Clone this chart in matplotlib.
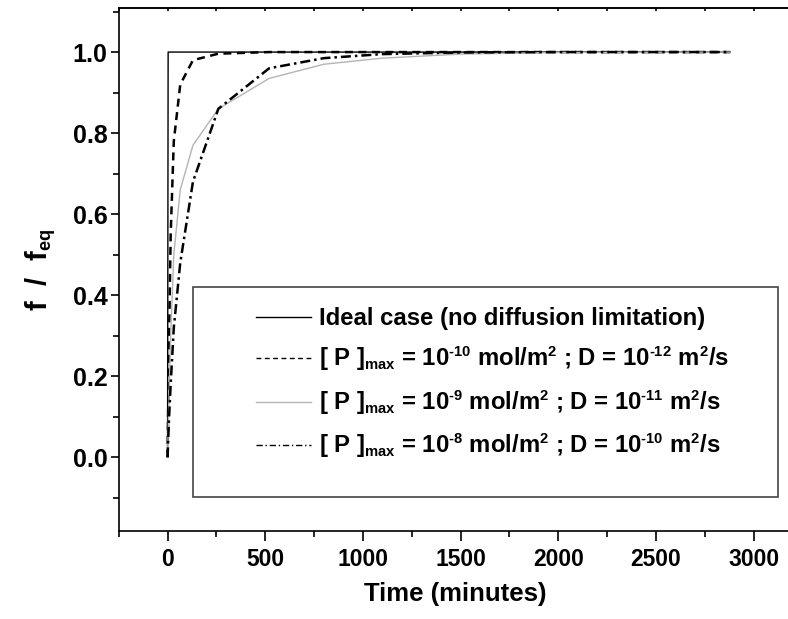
import matplotlib
matplotlib.use("Agg")
import matplotlib.pyplot as plt
from matplotlib.lines import Line2D
from matplotlib.patches import Rectangle
from matplotlib.ticker import MultipleLocator
try:
    import matplotlib._mathtext as _mt
    _mt.SHRINK_FACTOR = 0.62
except Exception:
    pass

plt.rcParams['font.family'] = ['Liberation Sans', 'DejaVu Sans']
plt.rcParams['font.weight'] = 'bold'
plt.rcParams['mathtext.fontset'] = 'custom'
plt.rcParams['mathtext.rm'] = 'Liberation Sans:bold'
plt.rcParams['mathtext.it'] = 'Liberation Sans:bold'
plt.rcParams['mathtext.bf'] = 'Liberation Sans:bold'
plt.rcParams['mathtext.sf'] = 'Liberation Sans:bold'

# ---- data ----
t_ideal = [0, 3, 2880]
f_ideal = [0.0, 1.0, 1.0]

t_sim = [0, 8, 16, 32, 65, 130, 260, 520, 800, 1100, 1500, 2000, 2880]
f_p10 = [0.0, 0.30, 0.55, 0.78, 0.92, 0.98, 0.996, 1.0, 1.0, 1.0, 1.0, 1.0, 1.0]
f_p9 = [0.0, 0.16, 0.30, 0.50, 0.66, 0.77, 0.86, 0.935, 0.97, 0.985, 0.995, 0.999, 1.0]
f_p8 = [0.0, 0.10, 0.18, 0.32, 0.48, 0.68, 0.86, 0.96, 0.985, 0.995, 0.999, 1.0, 1.0]

HY = '\u2010'
labels = [
    "Ideal case (no diffusion limitation)",
    r"[ P ]$_{\mathrm{max}}$ = 10$^{\mathrm{" + HY + r"10}}$ mol/m$^{\mathrm{2}}$ ; D = 10$^{\mathrm{" + HY + r"12}}$ m$^{\mathrm{2}}$/s",
    r"[ P ]$_{\mathrm{max}}$ = 10$^{\mathrm{" + HY + r"9}}$ mol/m$^{\mathrm{2}}$ ; D = 10$^{\mathrm{" + HY + r"11}}$ m$^{\mathrm{2}}$/s",
    r"[ P ]$_{\mathrm{max}}$ = 10$^{\mathrm{" + HY + r"8}}$ mol/m$^{\mathrm{2}}$ ; D = 10$^{\mathrm{" + HY + r"10}}$ m$^{\mathrm{2}}$/s",
]

W, H = 788, 619
fig = plt.figure(figsize=(W / 100, H / 100), dpi=100)
ax_l, ax_r, ax_t, ax_b = 118.7, 792.8, 8.3, 530.7
ax = fig.add_axes([ax_l / W, 1 - ax_b / H, (ax_r - ax_l) / W, (ax_b - ax_t) / H])

ax.plot(t_ideal, f_ideal, color='black', lw=1.0)
ax.plot(t_sim, f_p10, color='black', lw=1.8, dashes=(3.2, 2.2))
ax.plot(t_sim, f_p9, color='#b4b4b4', lw=1.0)
ax.plot(t_sim, f_p8, color='black', lw=1.8, dashes=(4.0, 1.6, 1.0, 1.6))

ax.set_xlim(-250, 3200)
ax.set_ylim(-0.181, 1.108)
ax.xaxis.set_major_locator(MultipleLocator(500))
ax.xaxis.set_minor_locator(MultipleLocator(250))
ax.yaxis.set_major_locator(MultipleLocator(0.2))
ax.yaxis.set_minor_locator(MultipleLocator(0.1))
ax.yaxis.set_major_formatter(matplotlib.ticker.FormatStrFormatter('%.1f'))

fs = 16.5
ax.tick_params(axis='both', which='both', labelsize=fs, width=1.2)
ax.tick_params(axis='x', which='major', direction='out', length=7.5, pad=5)
ax.tick_params(axis='x', which='minor', direction='out', length=4)
ax.tick_params(axis='y', which='major', direction='out', length=6, pad=2, labelsize=18)
ax.tick_params(axis='y', which='minor', direction='out', length=4)
for sp in ax.spines.values():
    sp.set_linewidth(1.2)

# top axis: small inward ticks, no labels
sec = ax.secondary_xaxis('top')
sec.xaxis.set_major_locator(MultipleLocator(500))
sec.xaxis.set_minor_locator(MultipleLocator(250))
sec.tick_params(axis='x', which='both', direction='in', length=2.5, width=1.2, labeltop=False)
sec.spines['top'].set_linewidth(1.2)

ax.set_xlabel("Time (minutes)", fontsize=18.5, fontweight='bold', labelpad=8)
ax.set_ylabel(r"f  /  f$_{\mathrm{eq}}$", fontsize=21, fontweight='bold', labelpad=10)

# legend frame
axw, axh = ax_r - ax_l, ax_b - ax_t
bx0, by0, bx1, by1 = 193.3, 287.3, 778.0, 497.0
ax.add_patch(Rectangle(((bx0 - ax_l) / axw, (ax_b - by1) / axh), (bx1 - bx0) / axw, (by1 - by0) / axh,
                       transform=ax.transAxes, fill=False, edgecolor='#444444', lw=1.2, zorder=5))

handles = [
    Line2D([], [], color='black', lw=1.0),
    Line2D([], [], color='black', lw=1.0, dashes=(3.5, 2.5)),
    Line2D([], [], color='#b4b4b4', lw=1.0),
    Line2D([], [], color='black', lw=1.0, dashes=(4.5, 2, 1, 2)),
]
leg = ax.legend(handles, labels, loc='upper left',
                bbox_to_anchor=((256 - ax_l) / axw, (ax_b - 307) / axh),
                frameon=False, fontsize=17.2, borderpad=0, borderaxespad=0,
                handlelength=2.3, handletextpad=0.35, labelspacing=0.62)
for txt in leg.get_texts():
    txt.set_fontweight('bold')

fig.savefig("out.png", dpi=100)
